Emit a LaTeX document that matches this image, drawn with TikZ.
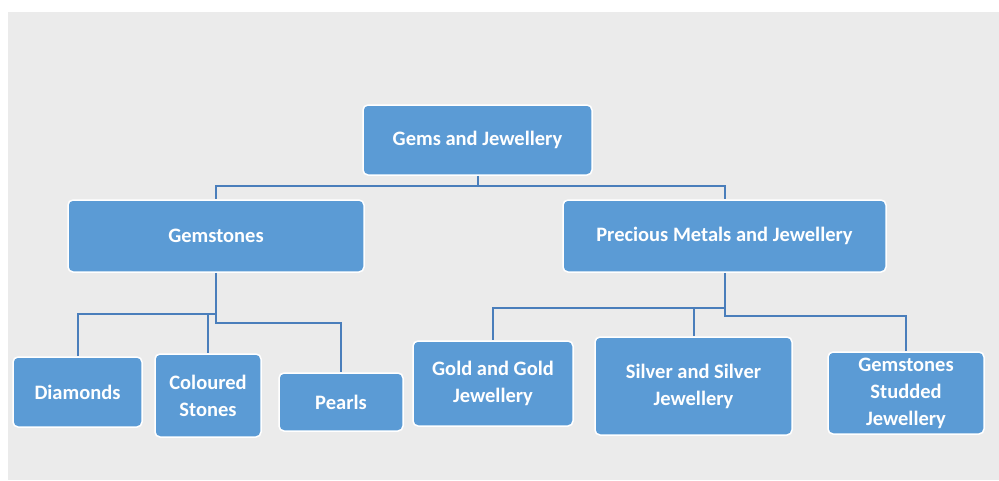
\documentclass[tikz,border=0pt]{standalone}
\usepackage{fontspec}
\setmainfont{Carlito}

\definecolor{boxblue}{HTML}{5B9BD5}
\definecolor{lineblue}{HTML}{4A7EBB}
\definecolor{bggray}{HTML}{EBEBEB}

\tikzset{
  catbox/.style={fill=boxblue, draw=white, line width=1.5pt,
    rounded corners=5pt, text=white, align=center, inner sep=2pt,
    font=\fontsize{20.5}{27}\selectfont\bfseries},
  link/.style={draw=lineblue, line width=2pt}
}

\begin{document}
\begin{tikzpicture}[x=1pt, y=-1pt]
  \useasboundingbox (0,0) rectangle (999,480);

  % Background
  \fill[bggray] (8,12) rectangle (999,480);

  % Top level
  \node[catbox, minimum width=229pt, minimum height=70pt]
    (root) at (477.5,140) {Gems and Jewellery};

  % Second level
  \node[catbox, minimum width=296pt, minimum height=72pt]
    (gem) at (216,236) {Gemstones};
  \node[catbox, minimum width=323pt, minimum height=72pt]
    (pmj) at (724.5,236) {Precious Metals and Jewellery};

  % Gemstones branch
  \node[catbox, minimum width=129pt, minimum height=70pt]
    (dia) at (77.5,392) {Diamonds};
  \node[catbox, minimum width=106pt, minimum height=83pt]
    (col) at (208,395.5) {Coloured\\Stones};
  \node[catbox, minimum width=124pt, minimum height=58pt]
    (prl) at (341,402) {Pearls};

  % Precious metals branch
  \node[catbox, minimum width=160pt, minimum height=85pt]
    (gold) at (493,383.5) {Gold and Gold\\Jewellery};
  \node[catbox, minimum width=197pt, minimum height=98pt]
    (silv) at (693.5,386) {Silver and Silver\\Jewellery};
  \node[catbox, minimum width=156pt, minimum height=82pt]
    (stud) at (906,393) {Gemstones\\Studded\\Jewellery};

  % Connectors
  \coordinate (rbus) at (477.5,186);
  \draw[link] (root.south) -- (rbus) -| (gem.north);
  \draw[link] (rbus) -| (pmj.north);

  \coordinate (gbusL) at (216,314);
  \coordinate (gbusR) at (216,323);
  \draw[link] (gem.south) -- (gbusR) -| (prl.north);
  \draw[link] (gbusL) -| (dia.north);
  \draw[link] (gbusL) -| (col.north);

  \coordinate (pbusL) at (724.5,308);
  \coordinate (pbusR) at (724.5,316);
  \draw[link] (pmj.south) -- (pbusR) -| (stud.north);
  \draw[link] (pbusL) -| (gold.north);
  \draw[link] (pbusL) -| (silv.north);

\end{tikzpicture}
\end{document}
